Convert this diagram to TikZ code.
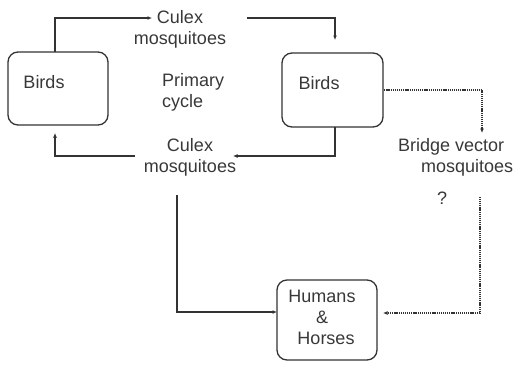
\documentclass[tikz,border=0pt]{standalone}
\usepackage{fontspec}
\setmainfont{Liberation Sans}
\usetikzlibrary{arrows.meta}
\begin{document}
\begin{tikzpicture}[x=1pt,y=-1pt,
  txt/.style={inner sep=0pt,text=black!78,font=\fontsize{18}{21}\selectfont},
  box/.style={draw=black!80,line width=1.3pt,rounded corners=10pt,inner sep=0pt},
  arr/.style={draw=black!80,line width=1.2pt,-{Latex[length=4.5pt,width=4pt]}},
  darr/.style={arr,dash pattern=on 1.1pt off 0.8pt}]
\useasboundingbox (0,0) rectangle (516,364);
% boxes
\node[box,minimum width=100pt,minimum height=73pt] (b1) at (58,88.5) {};
\node[txt] (b1t) at (44,82) {Birds};
\node[box,minimum width=101pt,minimum height=74pt] (b2) at (332.5,90) {};
\node[txt] (b2t) at (319,83) {Birds};
\node[box,minimum width=100pt,minimum height=80pt] (h) at (327,320) {};
\node[txt,align=center] (ht) at (322,317) {Humans\\\&\\\hspace*{8pt}Horses};
% texts
\node[txt,align=center] (c1) at (180,29.5) {Culex\\mosquitoes};
\node[txt,align=center] (c2) at (190,157) {Culex\\mosquitoes};
\node[txt,align=left,anchor=west] (pc) at (162,92.5) {Primary\\cycle};
\node[txt,align=left,anchor=west] (bv) at (398,157) {Bridge vector\\\hspace*{23pt}mosquitoes};
\node[txt] (q) at (442,198) {?};
% coordinates
\coordinate (a1s) at (55,52);
\coordinate (a1e) at (152,18);
\coordinate (a2s) at (247,18);
\coordinate (a2e) at (335,40);
\coordinate (a3s) at (335,127);
\coordinate (a3e) at (233,156);
\coordinate (a4s) at (135,156);
\coordinate (a4e) at (55,133);
\coordinate (a5s) at (177,195);
\coordinate (a5e) at (277,312);
\coordinate (d1e) at (482,133);
\coordinate (d2s) at (480,197);
\coordinate (d2e) at (383,313);
% connectors
\draw[arr] (a1s) |- (a1e);
\draw[arr] (a2s) -| (a2e);
\draw[arr] (a3s) |- (a3e);
\draw[arr] (a4s) -| (a4e);
\draw[arr] (a5s) |- (a5e);
\draw[darr] (b2.east) -| (d1e);
\draw[darr] (d2s) |- (d2e);
\end{tikzpicture}
\end{document}
